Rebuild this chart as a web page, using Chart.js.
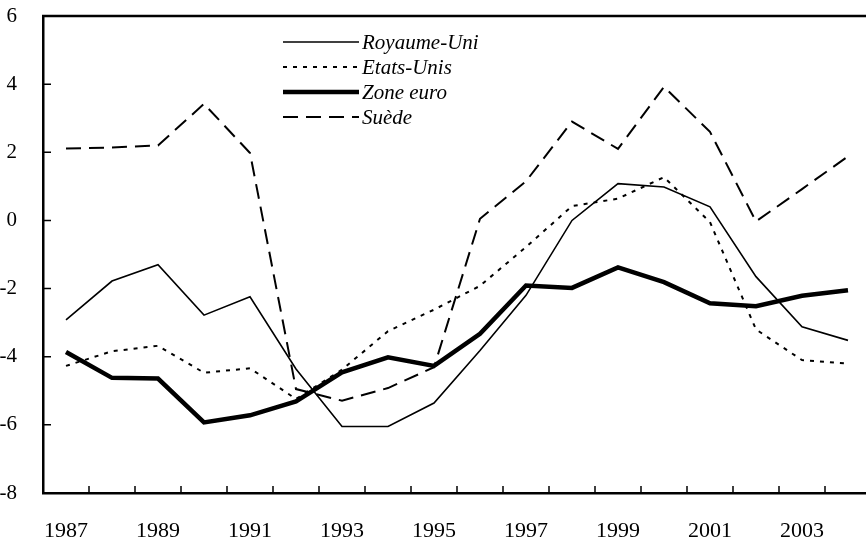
<!DOCTYPE html>
<html>
<head>
<meta charset="utf-8">
<script src="https://cdn.jsdelivr.net/npm/chart.js@4/dist/chart.umd.min.js"></script>
<style>
  html, body { margin: 0; padding: 0; background: #fff; overflow: hidden; }
  #wrap { width: 880px; height: 540px; }
</style>
</head>
<body>
<div id="wrap"><canvas id="chart" width="880" height="540"></canvas></div>
<script>
// years on the x axis
var years = ['1987', '1988', '1989', '1990', '1991', '1992', '1993', '1994', '1995',
  '1996', '1997', '1998', '1999', '2000', '2001', '2002', '2003', '2004'];

var royaumeUni = [-2.92, -1.78, -1.3, -2.78, -2.24, -4.36, -6.05, -6.05, -5.36,
  -3.82, -2.2, 0.0, 1.08, 0.98, 0.4, -1.65, -3.12, -3.52];
var etatsUnis = [-4.27, -3.84, -3.68, -4.47, -4.34, -5.24, -4.38, -3.25, -2.62,
  -1.92, -0.78, 0.42, 0.64, 1.27, -0.05, -3.2, -4.1, -4.2];
var zoneEuro = [-3.86, -4.62, -4.64, -5.93, -5.72, -5.31, -4.46, -4.02, -4.27,
  -3.33, -1.91, -1.98, -1.38, -1.81, -2.43, -2.52, -2.21, -2.05];
var suede = [2.11, 2.14, 2.2, 3.42, 1.98, -4.95, -5.29, -4.92, -4.31,
  0.05, 1.15, 2.9, 2.1, 3.92, 2.6, -0.03, 0.92, 1.88];

var yTicks = [-8, -6, -4, -2, 0, 2, 4, 6];

var serif = '"Liberation Serif", "Times New Roman", serif';

// frame line on top and inward tick marks, like the original
var framePlugin = {
  id: 'frame',
  afterDraw: function(chart) {
    var ctx = chart.ctx;
    var area = chart.chartArea;
    var x = chart.scales.x;
    var y = chart.scales.y;
    ctx.save();
    ctx.strokeStyle = '#000';
    ctx.lineWidth = 2.5;
    ctx.beginPath();
    ctx.moveTo(area.left - 1, area.top);
    ctx.lineTo(area.right, area.top);
    ctx.stroke();
    ctx.lineWidth = 1.5;
    ctx.beginPath();
    for (var i = 1; i < years.length; i++) {
      var px = (x.getPixelForValue(i - 1) + x.getPixelForValue(i)) / 2;
      ctx.moveTo(px, area.bottom);
      ctx.lineTo(px, area.bottom - 7);
    }
    yTicks.forEach(function(v) {
      var py = y.getPixelForValue(v);
      ctx.moveTo(area.left, py);
      ctx.lineTo(area.left + 8, py);
    });
    ctx.stroke();
    ctx.restore();
  }
};

// legend drawn inside the plot
var legendPlugin = {
  id: 'innerLegend',
  afterDraw: function(chart) {
    var ctx = chart.ctx;
    ctx.save();
    ctx.font = 'italic 21px ' + serif;
    ctx.textBaseline = 'middle';
    ctx.fillStyle = '#000';
    chart.data.datasets.forEach(function(ds, i) {
      var ly = 42 + i * 25;
      ctx.strokeStyle = ds.borderColor;
      ctx.lineWidth = ds.borderWidth;
      ctx.setLineDash(ds.borderDash || []);
      ctx.beginPath();
      ctx.moveTo(283, ly);
      ctx.lineTo(359, ly);
      ctx.stroke();
      ctx.setLineDash([]);
      ctx.fillText(ds.label, 362, ly + 1);
    });
    ctx.restore();
  }
};

function line(label, data, width, dash) {
  return {
    label: label,
    data: data,
    borderColor: '#000',
    backgroundColor: '#000',
    borderWidth: width,
    borderDash: dash,
    pointRadius: 0,
    tension: 0,
    fill: false
  };
}

new Chart(document.getElementById('chart'), {
  type: 'line',
  data: {
    labels: years,
    datasets: [
      line('Royaume-Uni', royaumeUni, 1.6, []),
      line('Etats-Unis', etatsUnis, 2, [4, 6]),
      line('Zone euro', zoneEuro, 4.5, []),
      line('Suède', suede, 2, [15, 8])
    ]
  },
  options: {
    responsive: false,
    animation: false,
    layout: { padding: { left: 0, top: 16, right: 9, bottom: 0 } },
    plugins: { legend: { display: false }, tooltip: { enabled: false } },
    scales: {
      x: {
        offset: true,
        grid: { display: false },
        border: { display: true, color: '#000', width: 2.5 },
        ticks: {
          autoSkip: false,
          maxRotation: 0,
          padding: 17,
          color: '#000',
          font: { family: serif, size: 22 },
          callback: function(v, i) { return i % 2 === 0 ? years[i] : ''; }
        },
        afterFit: function(scale) {
          scale.height = 47;
          scale.paddingLeft = 0;
          scale.paddingRight = 0;
        }
      },
      y: {
        min: -8,
        max: 6,
        grid: { display: false },
        border: { display: true, color: '#000', width: 2.5 },
        ticks: {
          stepSize: 2,
          padding: 18,
          color: '#000',
          font: { family: serif, size: 21 }
        },
        afterFit: function(scale) {
          scale.width = 43;
          scale.paddingTop = 0;
          scale.paddingBottom = 0;
        }
      }
    }
  },
  plugins: [framePlugin, legendPlugin]
});
</script>
</body>
</html>
